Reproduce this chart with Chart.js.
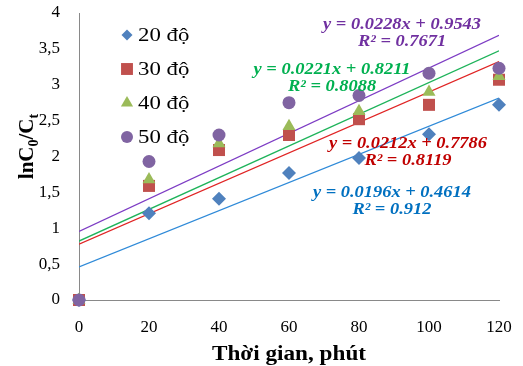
<!DOCTYPE html>
<html>
<head>
<meta charset="utf-8">
<script src="https://cdn.jsdelivr.net/npm/chart.js@4.4.0/dist/chart.umd.min.js"></script>
<style>
  html, body { margin: 0; padding: 0; background: #fff; }
  #wrap { width: 523px; height: 366px; }
</style>
</head>
<body>
<div id="wrap"><canvas id="kineticChart" width="523" height="366"></canvas></div>
<script>
// Data
var times = [0, 20, 40, 60, 80, 100, 120];
var seriesNames = ['20 độ', '30 độ', '40 độ', '50 độ'];
var values20 = [0, 1.21, 1.41, 1.77, 1.98, 2.31, 2.72];
var values30 = [0, 1.59, 2.09, 2.30, 2.52, 2.72, 3.07];
var values40 = [0, 1.68, 2.18, 2.42, 2.63, 2.90, 3.12];
var values50 = [0, 1.93, 2.30, 2.75, 2.85, 3.16, 3.23];
var slopes = [0.0196, 0.0212, 0.0221, 0.0228];
var intercepts = [0.4614, 0.7786, 0.8211, 0.9543];
var rSquared = ['0.912', '0.8119', '0.8088', '0.7671'];
var xTicks = [0, 20, 40, 60, 80, 100, 120];
var yTicks = [0, 0.5, 1, 1.5, 2, 2.5, 3, 3.5, 4];

var SERIF = "'Liberation Serif', 'Times New Roman', serif";
var markerColors = ['#4F81BD', '#C0504D', '#9BBB59', '#8064A2'];
var lineColors = ['#2F8AD8', '#E02424', '#1EB35A', '#7D3CC4'];
var textColors = ['#0070C0', '#C00000', '#00B050', '#7030A0'];
var pointStyles = ['rectRot', 'rect', 'triangle', 'circle'];
var pointSizes = [7, 8.5, 7.5, 6.5];
// where each trendline equation sits, in data units (x, y)
var labelSpots = [[89.4, 1.50], [94, 2.17], [72.3, 3.21], [92.3, 3.83]];

function toPoints(ys) {
    return times.map(function(t, i) { return { x: t, y: ys[i] }; });
}

function trendPoints(k) {
    var x0 = xTicks[0], x1 = xTicks[xTicks.length - 1];
    return [
        { x: x0, y: slopes[k] * x0 + intercepts[k] },
        { x: x1, y: slopes[k] * x1 + intercepts[k] }
    ];
}

function commaNum(v) {
    return String(v).replace('.', ',');
}

// draw text squeezed/stretched horizontally, like the Excel export
function stretchText(ctx, text, x, y, sx, align) {
    ctx.save();
    ctx.translate(x, y);
    ctx.scale(sx, 1);
    ctx.textAlign = align || 'left';
    ctx.fillText(text, 0, 0);
    ctx.restore();
}

function drawMarker(ctx, style, x, y, r, color) {
    ctx.save();
    ctx.fillStyle = color;
    ctx.beginPath();
    if (style === 'rectRot') {
        ctx.moveTo(x, y - r); ctx.lineTo(x + r, y); ctx.lineTo(x, y + r); ctx.lineTo(x - r, y);
    } else if (style === 'rect') {
        ctx.rect(x - r * 0.7, y - r * 0.7, r * 1.4, r * 1.4);
    } else if (style === 'triangle') {
        ctx.moveTo(x, y - r); ctx.lineTo(x + r * 0.87, y + r * 0.5); ctx.lineTo(x - r * 0.87, y + r * 0.5);
    } else {
        ctx.arc(x, y, r, 0, Math.PI * 2);
    }
    ctx.closePath();
    ctx.fill();
    ctx.restore();
}

var decorations = {
    id: 'decorations',
    afterDraw: function(chart) {
        var ctx = chart.ctx;
        var area = chart.chartArea;
        var xs = chart.scales.x, ys = chart.scales.y;

        // legend inside the plot, top left
        var legendSizes = [5.5, 8.5, 7, 6];
        ctx.save();
        ctx.font = '19px ' + SERIF;
        ctx.fillStyle = '#000';
        ctx.textBaseline = 'middle';
        for (var i = 0; i < seriesNames.length; i++) {
            var ly = area.top + 22 + i * 34;
            drawMarker(ctx, pointStyles[i], area.left + 48, ly, legendSizes[i], markerColors[i]);
            stretchText(ctx, seriesNames[i], area.left + 59, ly + 1, 1.2, 'left');
        }
        ctx.restore();

        // trendline equations
        ctx.save();
        ctx.font = 'italic bold 16px ' + SERIF;
        ctx.textBaseline = 'middle';
        for (var k = 0; k < slopes.length; k++) {
            var px = xs.getPixelForValue(labelSpots[k][0]);
            var py = ys.getPixelForValue(labelSpots[k][1]);
            ctx.fillStyle = textColors[k];
            stretchText(ctx, 'y = ' + slopes[k] + 'x + ' + intercepts[k], px, py, 1.15, 'center');
            stretchText(ctx, 'R² = ' + rSquared[k], px, py + 17, 1.15, 'center');
        }
        ctx.restore();

        // x axis title
        ctx.save();
        ctx.font = 'bold 20px ' + SERIF;
        ctx.fillStyle = '#000';
        ctx.textBaseline = 'alphabetic';
        stretchText(ctx, 'Thời gian, phút', (area.left + area.right) / 2, 360, 1.16, 'center');
        ctx.restore();

        // y axis title lnC0/Ct with subscripts, rotated
        ctx.save();
        ctx.translate(33, (area.top + area.bottom) / 2 - 10);
        ctx.rotate(-Math.PI / 2);
        ctx.fillStyle = '#000';
        ctx.textBaseline = 'alphabetic';
        var parts = [['lnC', false], ['0', true], ['/C', false], ['t', true]];
        var big = 'bold 21px ' + SERIF, small = 'bold 14px ' + SERIF;
        var total = 0;
        parts.forEach(function(p) { ctx.font = p[1] ? small : big; total += ctx.measureText(p[0]).width; });
        var cx = -total / 2;
        parts.forEach(function(p) {
            ctx.font = p[1] ? small : big;
            ctx.fillText(p[0], cx, p[1] ? 5 : 0);
            cx += ctx.measureText(p[0]).width;
        });
        ctx.restore();
    }
};

var allValues = [values20, values30, values40, values50];
var datasets = [];
allValues.forEach(function(vals, k) {
    datasets.push({
        type: 'scatter',
        label: seriesNames[k],
        data: toPoints(vals),
        pointStyle: pointStyles[k],
        pointRadius: pointSizes[k],
        pointHoverRadius: pointSizes[k],
        backgroundColor: markerColors[k],
        borderColor: markerColors[k],
        borderWidth: 0,
        clip: false,
        order: 4 - k
    });
});
allValues.forEach(function(vals, k) {
    datasets.push({
        type: 'line',
        label: 'trend ' + seriesNames[k],
        data: trendPoints(k),
        borderColor: lineColors[k],
        borderWidth: 1.3,
        pointRadius: 0,
        fill: false,
        order: 10 + k
    });
});

var ctx = document.getElementById('kineticChart').getContext('2d');
var kineticChart = new Chart(ctx, {
    data: { datasets: datasets },
    options: {
        responsive: false,
        animation: false,
        events: [],
        layout: { padding: { left: 0, right: 24, top: 13, bottom: 0 } },
        plugins: {
            legend: { display: false },
            tooltip: { enabled: false },
            title: { display: false }
        },
        scales: {
            x: {
                type: 'linear',
                min: 0,
                max: 120,
                afterBuildTicks: function(scale) {
                    scale.ticks = xTicks.map(function(v) { return { value: v }; });
                },
                afterFit: function(scale) {
                    scale.height = 66;
                    scale.paddingLeft = 0;
                    scale.paddingRight = 0;
                },
                grid: { display: false, drawTicks: false },
                border: { display: true, color: '#898989', width: 1 },
                ticks: {
                    padding: 17,
                    color: '#000',
                    maxRotation: 0,
                    font: { family: SERIF, size: 17 }
                }
            },
            y: {
                type: 'linear',
                min: 0,
                max: 4,
                afterBuildTicks: function(scale) {
                    scale.ticks = yTicks.map(function(v) { return { value: v }; });
                },
                afterFit: function(scale) {
                    scale.width = 79;
                    scale.paddingTop = 0;
                    scale.paddingBottom = 0;
                },
                grid: { display: false, drawTicks: false },
                border: { display: true, color: '#898989', width: 1 },
                ticks: {
                    padding: 19,
                    color: '#000',
                    font: { family: SERIF, size: 17 },
                    callback: function(v) { return commaNum(v); }
                }
            }
        }
    },
    plugins: [decorations]
});
</script>
</body>
</html>
